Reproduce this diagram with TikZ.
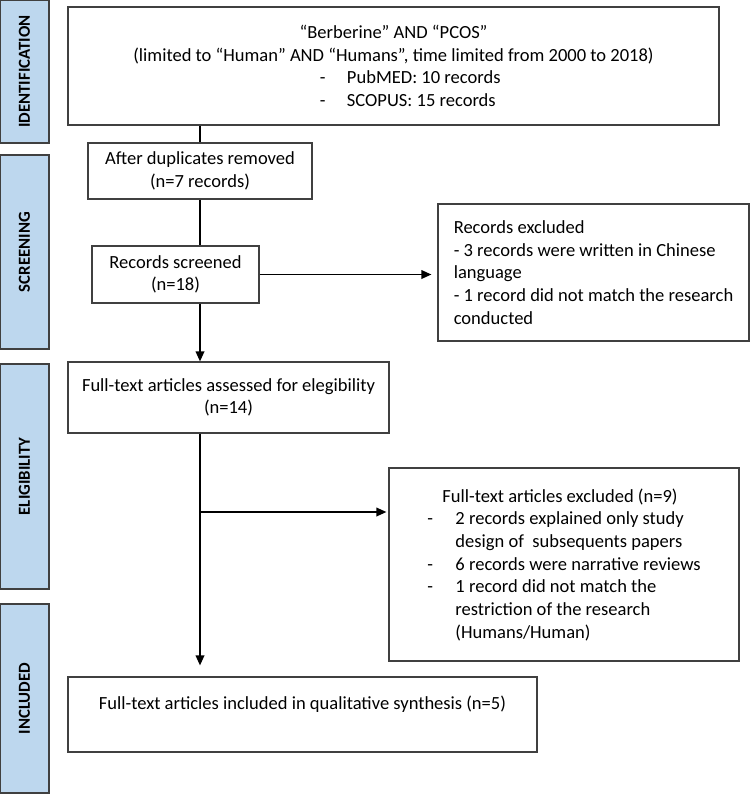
\documentclass[tikz,border=0pt]{standalone}
\usepackage{fontspec}
\setmainfont{Carlito}
\usetikzlibrary{arrows.meta}
\definecolor{stagefill}{RGB}{189,215,238}
\definecolor{boxline}{RGB}{64,64,64}
\tikzset{
  stage/.style={draw=boxline, fill=stagefill, line width=0.9pt, rotate=90, inner sep=0pt,
    font=\fontsize{12.6}{15}\selectfont\bfseries},
  recbox/.style={draw=boxline, line width=0.9pt, inner sep=0pt, align=center,
    font=\fontsize{13.9}{17}\selectfont},
  link/.style={line width=1.1pt},
  flow/.style={line width=1.1pt, -{Triangle[length=7.5pt,width=6.5pt]}},
}
\begin{document}
\begin{tikzpicture}[x=0.75pt, y=-0.75pt]
	\useasboundingbox (0,0) rectangle (751,794);
	% Stage bars:
	\node[stage, minimum width=107.25pt, minimum height=36.75pt] (ident) at (24.5,71.5) {IDENTIFICATION};
	\node[stage, minimum width=145.5pt, minimum height=36.75pt] (screen) at (24.5,252) {SCREENING};
	\node[stage, minimum width=168.75pt, minimum height=36.75pt] (elig) at (24.5,476.5) {ELIGIBILITY};
	\node[stage, minimum width=141.75pt, minimum height=36.75pt] (inclstage) at (24.5,698.5) {INCLUDED};
	% Record boxes:
	\node[recbox, minimum width=488.25pt, minimum height=88.5pt] (search) at (393.5,66)
		{“Berberine” AND “PCOS”\\
		(limited to “Human” AND “Humans”, time limited from 2000 to 2018)\\
		\makebox[110.25pt][l]{\makebox[20.25pt][l]{-}PubMED: 10 records}\\
		\makebox[110.25pt][l]{\makebox[20.25pt][l]{-}SCOPUS: 15 records}};
	\node[recbox, minimum width=168pt, minimum height=42pt] (dup) at (200,171)
		{After duplicates removed\\(n=7 records)};
	\node[recbox, minimum width=125.25pt, minimum height=42.75pt] (screened) at (175.5,274.5)
		{Records screened\\(n=18)};
	\node[recbox, align=left, minimum width=233.25pt, minimum height=102.75pt] (excl1) at (593.5,272.5)
		{Records excluded\\
		- 3 records were written in Chinese\\
		language\\
		- 1 record did not match the research\\
		conducted};
	\node[recbox, minimum width=240.75pt, minimum height=53.25pt] (assessed) at (228.5,397.5)
		{Full-text articles assessed for elegibility\\(n=14)};
	\node[recbox, align=left, minimum width=262.5pt, minimum height=144.75pt] (excl2) at (564,564.5)
		{\hspace*{11.25pt}Full-text articles excluded (n=9)\\
		\makebox[21pt][l]{-}2 records explained only study\\
		\hspace*{21pt}design of\ \ subsequents papers\\
		\makebox[21pt][l]{-}6 records were narrative reviews\\
		\makebox[21pt][l]{-}1 record did not match the\\
		\hspace*{21pt}restriction of the research\\
		\hspace*{21pt}(Humans/Human)};
	\node[recbox, minimum width=351.75pt, minimum height=56.25pt] (incl) at (302.5,714.5)
		{Full-text articles included in qualitative synthesis (n=5)\\\mbox{}};
	% Connectors:
	\coordinate (spine) at (200,0);
	\coordinate (branch) at (200,512);
	\draw[link] (search.south -| spine) -- (dup.north -| spine);
	\draw[link] (dup.south -| spine) -- (screened.north -| spine);
	\draw[flow] (screened.south -| spine) -- (assessed.north -| spine);
	\draw[flow, shorten >=4.5pt] (screened.east) -- (excl1.west |- screened.east);
	\draw[flow, shorten >=8.25pt] (assessed.south -| spine) -- (incl.north -| spine);
	\draw[flow, shorten >=1.5pt] (branch) -- (branch -| excl2.west);
\end{tikzpicture}
\end{document}
